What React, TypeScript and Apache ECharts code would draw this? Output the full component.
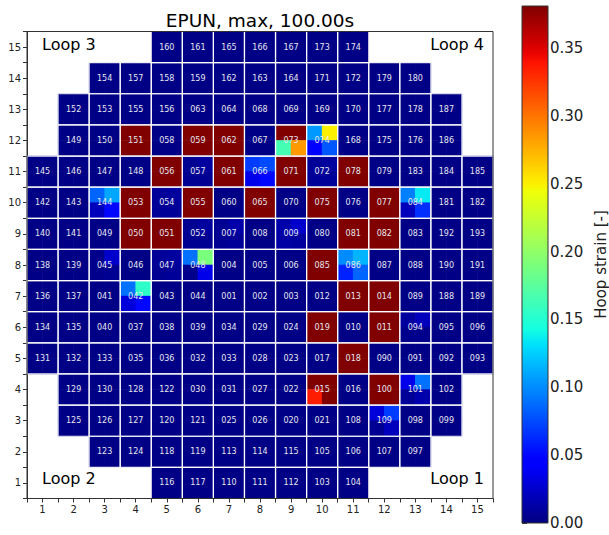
import React, { useEffect, useRef } from "react";
import * as echarts from "echarts";

const TITLE = "EPUN, max, 100.00s";
const COLORBAR_NAME = "Hoop strain [-]";
const X_TICKS = [1, 2, 3, 4, 5, 6, 7, 8, 9, 10, 11, 12, 13, 14, 15];
const Y_TICKS = [1, 2, 3, 4, 5, 6, 7, 8, 9, 10, 11, 12, 13, 14, 15];
const CBAR_TICKS = [0, 0.05, 0.1, 0.15, 0.2, 0.25, 0.3, 0.35];
const CBAR_MAX = 0.381;

// rows from top (15) to bottom (1)
const ROW_NUMBERS = [15, 14, 13, 12, 11, 10, 9, 8, 7, 6, 5, 4, 3, 2, 1];
const ROW_FIRST_COL = [5, 3, 2, 2, 1, 1, 1, 1, 1, 1, 1, 2, 2, 3, 5];
const ROW_LABELS = [
  ["160", "161", "165", "166", "167", "173", "174"],
  ["154", "157", "158", "159", "162", "163", "164", "171", "172", "179", "180"],
  ["152", "153", "155", "156", "063", "064", "068", "069", "169", "170", "177", "178", "187"],
  ["149", "150", "151", "058", "059", "062", "067", "073", "074", "168", "175", "176", "186"],
  ["145", "146", "147", "148", "056", "057", "061", "066", "071", "072", "078", "079", "183", "184", "185"],
  ["142", "143", "144", "053", "054", "055", "060", "065", "070", "075", "076", "077", "084", "181", "182"],
  ["140", "141", "049", "050", "051", "052", "007", "008", "009", "080", "081", "082", "083", "192", "193"],
  ["138", "139", "045", "046", "047", "048", "004", "005", "006", "085", "086", "087", "088", "190", "191"],
  ["136", "137", "041", "042", "043", "044", "001", "002", "003", "012", "013", "014", "089", "188", "189"],
  ["134", "135", "040", "037", "038", "039", "034", "029", "024", "019", "010", "011", "094", "095", "096"],
  ["131", "132", "133", "035", "036", "032", "033", "028", "023", "017", "018", "090", "091", "092", "093"],
  ["129", "130", "128", "122", "030", "031", "027", "022", "015", "016", "100", "101", "102"],
  ["125", "126", "127", "120", "121", "025", "026", "020", "021", "108", "109", "098", "099"],
  ["123", "124", "118", "119", "113", "114", "115", "105", "106", "107", "097"],
  ["116", "117", "110", "111", "112", "103", "104"],
];

// quadrant values [top-left, top-right, bottom-left, bottom-right]
const NAVY_VALUE = 0.002;
const RED_VALUE = 0.4;
const RED_ASSEMBLIES = [
  "151", "059", "062", "056", "061", "071", "078", "053", "055", "065", "075", "077",
  "050", "051", "081", "082", "085", "013", "014", "019", "011", "018", "100",
];
const QUAD_VALUES: Record<string, number[]> = {
  "073": [0.4, 0.4, 0.165, 0.285],
  "074": [0.105, 0.25, 0.045, 0.08],
  "066": [0.07, 0.075, 0.035, 0.05],
  "144": [0.085, 0.11, 0.02, 0.05],
  "042": [0.09, 0.155, 0.03, 0.05],
  "048": [0.09, 0.19, 0.004, 0.035],
  "045": [0.004, 0.025, 0.004, 0.006],
  "084": [0.095, 0.135, 0.02, 0.065],
  "086": [0.1, 0.115, 0.06, 0.085],
  "015": [0.4, 0.4, 0.335, 0.4],
  "101": [0.035, 0.09, 0.008, 0.015],
  "109": [0.03, 0.07, 0.006, 0.02],
  "009": [0.014, 0.025, 0.012, 0.01],
  "094": [0.01, 0.02, 0.004, 0.004],
  "007": [0.006, 0.014, 0.006, 0.008],
  "054": [0.008, 0.01, 0.008, 0.008],
  "047": [0.008, 0.01, 0.006, 0.008],
  "052": [0.006, 0.01, 0.006, 0.006],
  "057": [0.006, 0.01, 0.006, 0.006],
  "072": [0.008, 0.01, 0.008, 0.008],
};

function interp(t: number, xs: number[], ys: number[]) {
  if (t <= xs[0]) return ys[0];
  for (let i = 1; i < xs.length; i++) {
    if (t <= xs[i]) {
      const f = (t - xs[i - 1]) / (xs[i] - xs[i - 1]);
      return ys[i - 1] + f * (ys[i] - ys[i - 1]);
    }
  }
  return ys[ys.length - 1];
}
function jet(t: number) {
  const r = interp(t, [0, 0.35, 0.66, 0.89, 1], [0, 0, 1, 1, 0.5]);
  const g = interp(t, [0, 0.125, 0.375, 0.64, 0.91, 1], [0, 0, 1, 1, 0, 0]);
  const b = interp(t, [0, 0.11, 0.34, 0.65, 1], [0.5, 1, 1, 0, 0]);
  const h = (v: number) => Math.round(v * 255).toString(16).padStart(2, "0");
  return "#" + h(r) + h(g) + h(b);
}

const FONT = "DejaVu Sans";

export default function App() {
  const ref = useRef<HTMLDivElement>(null);
  useEffect(() => {
    document.body.style.margin = "0";
    if (!ref.current) return;
    const chart = echarts.init(ref.current, undefined, { renderer: "svg" });

    const assemblies: { col: number; row: number; label: string }[] = [];
    ROW_LABELS.forEach((labels, ri) => {
      labels.forEach((label, ci) => {
        assemblies.push({ col: ROW_FIRST_COL[ri] + ci, row: ROW_NUMBERS[ri], label });
      });
    });
    const quadData: number[][] = [];
    assemblies.forEach((a) => {
      let q = QUAD_VALUES[a.label];
      if (!q) {
        const v = RED_ASSEMBLIES.includes(a.label) ? RED_VALUE : NAVY_VALUE;
        q = [v, v, v, v];
      }
      const cl = (v: number) => Math.min(v, CBAR_MAX);
      quadData.push([a.col - 0.25, a.row + 0.25, cl(q[0])]);
      quadData.push([a.col + 0.25, a.row + 0.25, cl(q[1])]);
      quadData.push([a.col - 0.25, a.row - 0.25, cl(q[2])]);
      quadData.push([a.col + 0.25, a.row - 0.25, cl(q[3])]);
    });
    const assemblyData = assemblies.map((a) => [a.col, a.row]);

    const jetColors: string[] = [];
    for (let i = 0; i <= 64; i++) jetColors.push(jet(i / 64));
    const gradStops = jetColors.map((c, i) => ({ offset: i / 64, color: c }));

    const halfTicks = [0.5, ...X_TICKS.flatMap((t) => [t, t + 0.5])];

    const G = { left: 27, top: 31.5, width: 466, height: 467 };
    const CB = { left: 522, top: 6, width: 26, height: 517 };

    chart.setOption({
      animation: false,
      grid: [
        { left: G.left, top: G.top, width: G.width, height: G.height },
        { left: CB.left, top: CB.top, width: CB.width, height: CB.height },
      ],
      xAxis: [
        {
          type: "value",
          gridIndex: 0,
          min: 0.5,
          max: 15.5,
          splitLine: { show: false },
          axisLine: { show: true, lineStyle: { color: "#333" } },
          axisTick: { show: true, length: 4, customValues: halfTicks, lineStyle: { color: "#333" } },
          axisLabel: { customValues: X_TICKS, fontSize: 10, color: "#222", margin: 6, fontFamily: FONT },
        },
        { type: "value", gridIndex: 1, min: 0, max: 1, show: false },
      ],
      yAxis: [
        {
          type: "value",
          gridIndex: 0,
          min: 0.5,
          max: 15.5,
          splitLine: { show: false },
          axisLine: { show: true, lineStyle: { color: "#333" } },
          axisTick: { show: true, length: 4, customValues: halfTicks, lineStyle: { color: "#333" } },
          axisLabel: { customValues: Y_TICKS, fontSize: 10, color: "#222", margin: 6, fontFamily: FONT },
        },
        {
          type: "value",
          gridIndex: 1,
          position: "right",
          min: 0,
          max: CBAR_MAX,
          splitLine: { show: false },
          axisLine: { show: false },
          axisTick: { show: true, length: 5, customValues: CBAR_TICKS, lineStyle: { color: "#333" } },
          axisLabel: {
            customValues: CBAR_TICKS,
            formatter: (v: number) => v.toFixed(2),
            fontSize: 15,
            color: "#222",
            margin: 9,
            fontFamily: FONT,
          },
          name: COLORBAR_NAME,
          nameLocation: "middle",
          nameRotate: 90,
          nameGap: 52,
          nameTextStyle: { fontSize: 15, color: "#222", fontFamily: FONT },
        },
      ],
      visualMap: [
        {
          type: "continuous",
          show: false,
          min: 0,
          max: CBAR_MAX,
          dimension: 2,
          seriesIndex: 0,
          inRange: { color: jetColors },
        },
      ],
      series: [
        {
          type: "custom",
          xAxisIndex: 0,
          yAxisIndex: 0,
          data: quadData,
          encode: { x: 0, y: 1 },
          renderItem: (params: any, api: any) => {
            const x = api.value(0);
            const y = api.value(1);
            const p0 = api.coord([x - 0.25, y + 0.25]);
            const p1 = api.coord([x + 0.25, y - 0.25]);
            return {
              type: "rect",
              shape: { x: p0[0] - 0.3, y: p0[1] - 0.3, width: p1[0] - p0[0] + 0.6, height: p1[1] - p0[1] + 0.6 },
              style: { fill: api.visual("color") },
            };
          },
        },
        {
          type: "custom",
          xAxisIndex: 0,
          yAxisIndex: 0,
          data: assemblyData,
          encode: { x: 0, y: 1 },
          renderItem: (params: any, api: any) => {
            const x = api.value(0);
            const y = api.value(1);
            const p0 = api.coord([x - 0.5, y + 0.5]);
            const p1 = api.coord([x + 0.5, y - 0.5]);
            const c = api.coord([x, y]);
            const label = assemblies[params.dataIndex].label;
            return {
              type: "group",
              children: [
                {
                  type: "rect",
                  shape: { x: p0[0], y: p0[1], width: p1[0] - p0[0], height: p1[1] - p0[1] },
                  style: { fill: "none", stroke: "rgba(255,255,255,0.9)", lineWidth: 1.2 },
                },
                {
                  type: "text",
                  x: c[0],
                  y: c[1],
                  style: {
                    text: label,
                    fill: "#e6e6ee",
                    font: `8px "${FONT}"`,
                    align: "center",
                    verticalAlign: "middle",
                    textAlign: "center",
                    textVerticalAlign: "middle",
                  },
                },
              ],
            };
          },
        },
      ],
      graphic: [
        {
          type: "rect",
          shape: { x: G.left, y: G.top, width: G.width, height: G.height },
          style: { fill: "none", stroke: "#333", lineWidth: 1 },
          z: 100,
        },
        {
          type: "rect",
          shape: { x: CB.left, y: CB.top, width: CB.width, height: CB.height },
          style: { fill: new echarts.graphic.LinearGradient(0, 1, 0, 0, gradStops), stroke: "#333", lineWidth: 1 },
          z: 100,
        },
        {
          type: "text",
          x: G.left + G.width / 2,
          y: 20,
          style: { text: TITLE, font: `18.5px "${FONT}"`, fill: "#000", textAlign: "center", textVerticalAlign: "middle" },
          z: 100,
        },
        {
          type: "text",
          x: 42,
          y: 44,
          style: { text: "Loop 3", font: `16px "${FONT}"`, fill: "#000", textAlign: "left", textVerticalAlign: "middle" },
          z: 100,
        },
        {
          type: "text",
          x: 484,
          y: 44,
          style: { text: "Loop 4", font: `16px "${FONT}"`, fill: "#000", textAlign: "right", textVerticalAlign: "middle" },
          z: 100,
        },
        {
          type: "text",
          x: 42,
          y: 478,
          style: { text: "Loop 2", font: `16px "${FONT}"`, fill: "#000", textAlign: "left", textVerticalAlign: "middle" },
          z: 100,
        },
        {
          type: "text",
          x: 484,
          y: 478,
          style: { text: "Loop 1", font: `16px "${FONT}"`, fill: "#000", textAlign: "right", textVerticalAlign: "middle" },
          z: 100,
        },
      ],
    });
    return () => chart.dispose();
  }, []);
  return <div ref={ref} style={{ width: 609, height: 535 }} />;
}
